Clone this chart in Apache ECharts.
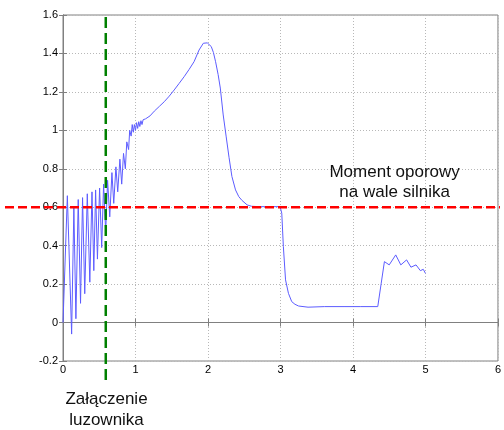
<!DOCTYPE html>
<html>
<head>
<meta charset="utf-8">
<script src="https://cdn.jsdelivr.net/npm/echarts@6/dist/echarts.min.js"></script>
<style>
  html, body { margin: 0; padding: 0; background: #fff; }
  #chart { width: 504px; height: 430px; }
</style>
</head>
<body>
<div id="chart"></div>
<script>
// czas [s] i moment
var times = [
  0, 0.06, 0.119, 0.15, 0.178, 0.21, 0.242, 0.27, 0.30, 0.335,
  0.37, 0.40, 0.425, 0.45, 0.475, 0.505, 0.534, 0.56, 0.589, 0.615,
  0.645, 0.675, 0.70, 0.73, 0.755, 0.785, 0.81, 0.835, 0.86, 0.88,
  0.905, 0.92, 0.94, 0.955, 0.97, 0.985, 1.0, 1.015, 1.03, 1.045,
  1.06, 1.075, 1.09, 1.105, 1.12, 1.14, 1.16, 1.2, 1.26, 1.33,
  1.397, 1.466, 1.534, 1.6, 1.671, 1.74, 1.808, 1.877, 1.936, 1.99,
  2.045, 2.075, 2.105, 2.14, 2.17, 2.21, 2.25, 2.29, 2.33, 2.38,
  2.425, 2.47, 2.54, 2.6, 2.7, 2.8, 2.9, 2.995, 3.018, 3.04,
  3.07, 3.11, 3.155, 3.2, 3.25, 3.38, 3.61, 3.89, 4.1, 4.342,
  4.39, 4.434, 4.50, 4.59, 4.66, 4.74, 4.80, 4.87, 4.93, 4.97, 5.0
];
var moment = [
  0, 0.66, -0.06, 0.60, 0.02, 0.64, 0.10, 0.65, 0.15, 0.67,
  0.21, 0.68, 0.27, 0.69, 0.33, 0.70, 0.39, 0.72, 0.47, 0.74,
  0.55, 0.78, 0.62, 0.81, 0.68, 0.85, 0.72, 0.88, 0.80, 0.94,
  0.90, 1.0, 0.97, 1.03, 0.99, 1.03, 1.0, 1.04, 1.01, 1.045,
  1.02, 1.05, 1.03, 1.055, 1.045, 1.06, 1.055, 1.075, 1.10, 1.125,
  1.149, 1.178, 1.21, 1.243, 1.279, 1.317, 1.357, 1.418, 1.453, 1.455,
  1.436, 1.405, 1.357, 1.29, 1.22, 1.08, 0.97, 0.86, 0.76, 0.69,
  0.655, 0.635, 0.612, 0.605, 0.603, 0.603, 0.603, 0.603, 0.569, 0.395,
  0.222, 0.152, 0.109, 0.095, 0.086, 0.080, 0.083, 0.083, 0.083, 0.083,
  0.205, 0.317, 0.30, 0.352, 0.30, 0.326, 0.288, 0.30, 0.27, 0.277, 0.256
];
var xTicks = { min: 0, max: 6, step: 1 };
var yTicks = { min: -0.2, max: 1.6, step: 0.2 };
var momentOporowy = 0.6;   // poziom momentu oporowego
var tLuzownik = 0.59;      // chwila zalaczenia luzownika
var labelOpor = ['Moment oporowy', 'na wale silnika'];
var labelLuz = ['Załączenie', 'luzownika'];

var points = [];
for (var i = 0; i < times.length; i++) {
  points.push([times[i], moment[i]]);
}

var font = '"Liberation Sans", Arial, sans-serif';
var boxColor = '#808080';

var chart = echarts.init(document.getElementById('chart'), null, { renderer: 'canvas' });

chart.setOption({
  animation: false,
  grid: {
    left: 63, right: 3, top: 15, bottom: 69,
    show: true, borderColor: boxColor, borderWidth: 1
  },
  xAxis: [
    {
      type: 'value', min: xTicks.min, max: xTicks.max, interval: xTicks.step,
      axisLine: { lineStyle: { color: boxColor } },
      axisTick: { inside: true, length: 4, lineStyle: { color: boxColor } },
      axisLabel: { color: '#000', fontFamily: font, fontSize: 11, margin: 3 },
      splitLine: { show: true, lineStyle: { color: '#b8b8b8', type: [1, 2] } }
    },
    {
      type: 'value', position: 'top', min: xTicks.min, max: xTicks.max, interval: xTicks.step,
      axisLine: { lineStyle: { color: boxColor } },
      axisTick: { inside: true, length: 4, lineStyle: { color: boxColor } },
      axisLabel: { show: false }, splitLine: { show: false }
    }
  ],
  yAxis: [
    {
      type: 'value', min: yTicks.min, max: yTicks.max, interval: yTicks.step,
      axisLine: { show: true, lineStyle: { color: boxColor } },
      axisTick: { show: true, inside: true, length: 4, lineStyle: { color: boxColor } },
      axisLabel: {
        color: '#000', fontFamily: font, fontSize: 11, margin: 5,
        formatter: function (v) { return String(Math.round(v * 10) / 10); }
      },
      splitLine: { show: true, lineStyle: { color: '#b8b8b8', type: [1, 2] } }
    },
    {
      type: 'value', position: 'right', min: yTicks.min, max: yTicks.max, interval: yTicks.step,
      axisLine: { show: true, lineStyle: { color: boxColor } },
      axisTick: { show: true, inside: true, length: 4, lineStyle: { color: boxColor } },
      axisLabel: { show: false }, splitLine: { show: false }
    }
  ],
  series: [
    {
      type: 'line',
      data: points,
      showSymbol: false,
      lineStyle: { color: '#5c5cff', width: 1 }
    }
  ]
});

// linie przerywane i opisy - polozenie liczone przez os wykresu
var pLev = chart.convertToPixel({ gridIndex: 0 }, [tLuzownik, momentOporowy]);
var pOpor = chart.convertToPixel({ gridIndex: 0 }, [4.575, 0.73]);
var pLuz = chart.convertToPixel({ gridIndex: 0 }, [tLuzownik + 0.01, -0.2]);
var yTop = chart.convertToPixel({ yAxisIndex: 0 }, yTicks.max);

chart.setOption({
  graphic: [
    {
      type: 'line', z: 10,
      shape: { x1: 5, y1: pLev[1], x2: 500, y2: pLev[1] },
      style: { stroke: '#ff0000', lineWidth: 2.5, lineDash: [9, 4] }
    },
    {
      type: 'line', z: 11,
      shape: { x1: pLev[0], y1: yTop + 2, x2: pLev[0], y2: 384 },
      style: { stroke: '#008000', lineWidth: 2.5, lineDash: [11, 5] }
    },
    {
      type: 'text', z: 12,
      x: pOpor[0], y: pOpor[1],
      style: {
        text: labelOpor.join('\n'), fill: '#111', font: '17px ' + font,
        align: 'center', verticalAlign: 'middle', lineHeight: 20
      }
    },
    {
      type: 'text', z: 12,
      x: pLuz[0], y: pLuz[1] + 49,
      style: {
        text: labelLuz.join('\n'), fill: '#111', font: '17px ' + font,
        align: 'center', verticalAlign: 'middle', lineHeight: 21
      }
    }
  ]
});
</script>
</body>
</html>
